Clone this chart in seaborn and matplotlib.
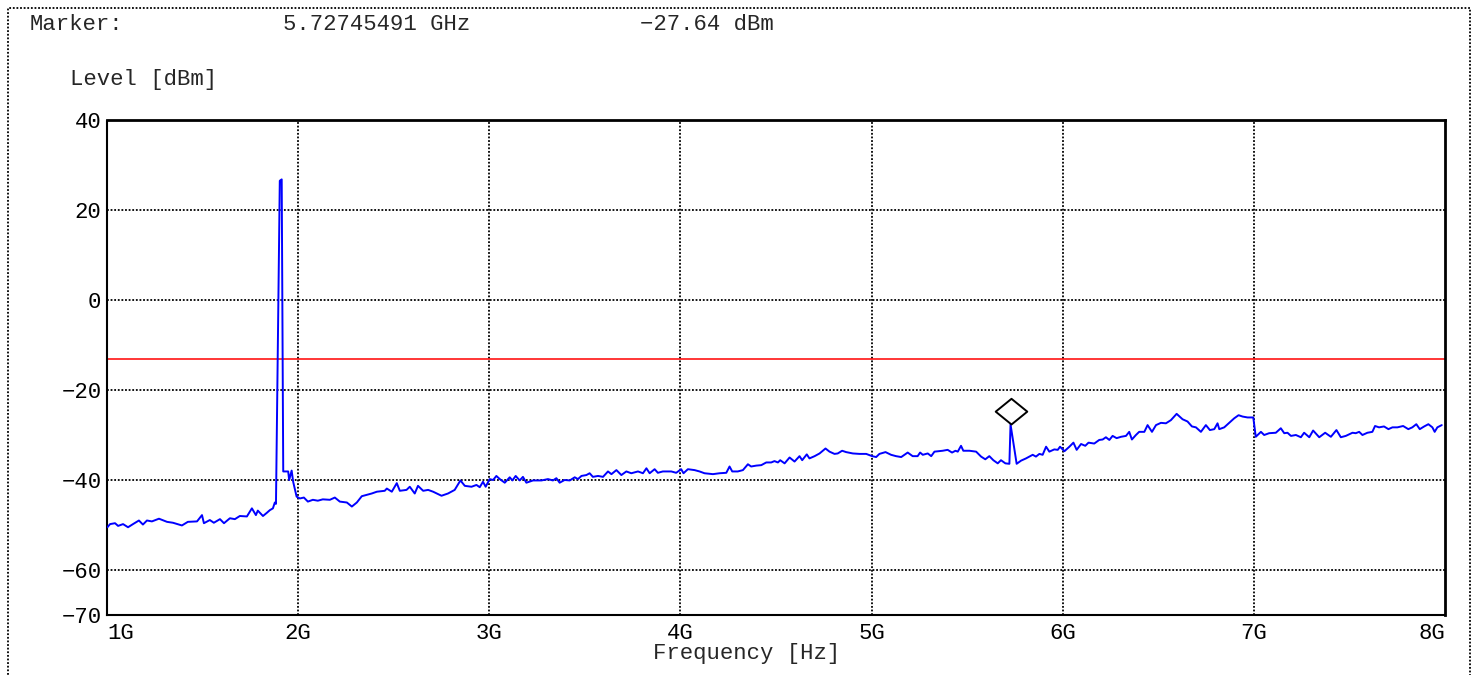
import numpy as np
import pandas as pd
import seaborn as sns
import matplotlib.pyplot as plt
import matplotlib.patches as mpatches
from matplotlib.path import Path

# spectrum trace
freq_ghz = [
    1.002, 1.016, 1.042, 1.058, 1.084, 1.110, 1.136, 1.167, 1.188, 1.209,
    1.235, 1.272, 1.314, 1.345, 1.392, 1.423, 1.471, 1.497, 1.507, 1.538,
    1.559, 1.591, 1.612, 1.643, 1.669, 1.695, 1.732, 1.758, 1.779, 1.789,
    1.816, 1.836, 1.852, 1.868, 1.878, 1.884, 1.904, 1.914, 1.922, 1.948,
    1.953, 1.966, 1.974, 1.992, 2.009, 2.030, 2.051, 2.077, 2.103, 2.129,
    2.166, 2.192, 2.218, 2.255, 2.281, 2.307, 2.333, 2.359, 2.385, 2.412,
    2.453, 2.464, 2.490, 2.516, 2.532, 2.567, 2.584, 2.610, 2.627, 2.654,
    2.680, 2.706, 2.750, 2.784, 2.819, 2.849, 2.872, 2.907, 2.933, 2.950,
    2.967, 2.981, 3.002, 3.020, 3.037, 3.055, 3.081, 3.107, 3.121, 3.138,
    3.159, 3.176, 3.194, 3.229, 3.273, 3.307, 3.333, 3.351, 3.368, 3.394,
    3.421, 3.447, 3.464, 3.482, 3.508, 3.525, 3.542, 3.569, 3.595, 3.621,
    3.639, 3.665, 3.691, 3.717, 3.743, 3.778, 3.804, 3.822, 3.839, 3.865,
    3.882, 3.908, 3.952, 3.978, 4.004, 4.016, 4.039, 4.074, 4.100, 4.126,
    4.170, 4.205, 4.240, 4.257, 4.271, 4.300, 4.327, 4.353, 4.370, 4.397,
    4.423, 4.449, 4.475, 4.492, 4.510, 4.522, 4.545, 4.571, 4.597, 4.623,
    4.637, 4.661, 4.675, 4.702, 4.728, 4.759, 4.780, 4.806, 4.823, 4.846,
    4.867, 4.902, 4.937, 4.972, 5.003, 5.024, 5.041, 5.073, 5.102, 5.128,
    5.155, 5.189, 5.215, 5.241, 5.254, 5.268, 5.294, 5.312, 5.329, 5.372,
    5.398, 5.421, 5.439, 5.451, 5.468, 5.480, 5.512, 5.547, 5.573, 5.595,
    5.616, 5.637, 5.660, 5.677, 5.700, 5.721, 5.727, 5.759, 5.782, 5.808,
    5.825, 5.843, 5.860, 5.878, 5.895, 5.913, 5.930, 5.956, 5.974, 5.986,
    6.009, 6.035, 6.056, 6.073, 6.096, 6.118, 6.135, 6.165, 6.191, 6.209,
    6.226, 6.244, 6.261, 6.282, 6.305, 6.331, 6.348, 6.362, 6.383, 6.400,
    6.427, 6.444, 6.467, 6.488, 6.514, 6.540, 6.566, 6.596, 6.627, 6.653,
    6.676, 6.697, 6.723, 6.749, 6.770, 6.793, 6.810, 6.819, 6.845, 6.871,
    6.897, 6.920, 6.941, 6.967, 6.997, 7.010, 7.037, 7.054, 7.080, 7.115,
    7.141, 7.159, 7.176, 7.194, 7.220, 7.246, 7.263, 7.290, 7.310, 7.342,
    7.373, 7.403, 7.432, 7.455, 7.481, 7.516, 7.533, 7.551, 7.568, 7.594,
    7.620, 7.634, 7.655, 7.681, 7.704, 7.725, 7.751, 7.781, 7.808, 7.829,
    7.850, 7.868, 7.891, 7.913, 7.934, 7.946, 7.960, 7.983,
]
level_dbm = [
    -50.5, -49.8, -49.6, -50.2, -49.8, -50.5, -49.8, -49.0, -49.9, -49.0,
    -49.2, -48.6, -49.3, -49.5, -50.1, -49.3, -49.2, -47.8, -49.6, -48.9,
    -49.5, -48.7, -49.6, -48.5, -48.7, -48.0, -48.1, -46.3, -47.8, -46.8,
    -48.0, -47.3, -46.7, -46.3, -45.0, -45.3, 26.5, 26.8, -38.1, -38.1,
    -40.0, -37.9, -40.4, -43.7, -44.1, -43.9, -44.8, -44.4, -44.6, -44.3,
    -44.4, -43.9, -44.8, -45.0, -45.9, -45.0, -43.6, -43.3, -43.0, -42.6,
    -42.4, -41.9, -42.6, -40.7, -42.4, -42.2, -41.5, -43.0, -41.3, -42.4,
    -42.2, -42.6, -43.5, -43.0, -42.2, -40.1, -41.3, -41.5, -41.1, -41.6,
    -40.4, -41.5, -39.8, -40.0, -39.1, -39.8, -40.6, -39.4, -40.1, -39.1,
    -40.1, -39.3, -40.6, -40.1, -40.1, -39.8, -40.1, -39.6, -40.6, -40.0,
    -40.1, -39.4, -39.8, -39.1, -38.9, -38.5, -39.3, -39.1, -39.3, -38.1,
    -38.7, -37.8, -38.9, -38.1, -38.5, -38.1, -38.5, -37.4, -38.5, -37.6,
    -38.4, -38.1, -38.1, -38.4, -37.6, -38.5, -37.6, -37.8, -38.1, -38.5,
    -38.7, -38.5, -38.4, -37.0, -38.1, -38.1, -37.8, -36.5, -37.0, -36.8,
    -36.7, -36.1, -36.1, -35.8, -36.1, -35.6, -36.3, -35.0, -35.9, -34.7,
    -35.6, -34.3, -35.2, -34.7, -34.1, -33.0, -33.7, -34.2, -34.1, -33.5,
    -33.8, -34.1, -34.2, -34.2, -34.7, -34.9, -34.2, -33.8, -34.4, -34.7,
    -34.9, -33.9, -34.7, -34.7, -33.9, -34.4, -34.1, -34.7, -33.7, -33.5,
    -33.3, -33.9, -33.5, -33.7, -32.4, -33.5, -33.5, -33.7, -34.8, -35.4,
    -34.7, -35.6, -36.3, -35.6, -36.3, -36.4, -27.64, -36.4, -35.7, -35.2,
    -34.8, -34.4, -34.8, -34.2, -34.4, -32.6, -33.7, -33.2, -33.3, -32.6,
    -33.6, -32.6, -31.7, -33.3, -32.0, -32.4, -31.7, -31.9, -31.1, -31.0,
    -30.5, -31.1, -30.2, -30.7, -30.4, -30.2, -29.3, -31.0, -30.0, -29.3,
    -29.3, -27.8, -29.3, -27.8, -27.3, -27.4, -26.7, -25.3, -26.5, -27.0,
    -28.1, -28.3, -29.3, -27.8, -28.9, -28.7, -27.4, -28.7, -28.3, -27.3,
    -26.3, -25.6, -25.9, -26.1, -26.1, -30.4, -29.3, -30.0, -29.6, -29.5,
    -28.5, -29.6, -29.5, -30.2, -30.0, -30.5, -29.5, -30.5, -29.0, -30.5,
    -29.5, -30.4, -28.9, -30.5, -30.2, -29.5, -29.6, -29.3, -30.0, -29.5,
    -29.3, -28.0, -28.3, -28.1, -28.7, -28.3, -28.3, -28.0, -28.7, -28.3,
    -27.6, -28.7, -28.1, -27.6, -28.3, -29.3, -28.3, -27.8,
]

marker_freq = 5.72745491
marker_level = -27.64
limit_dbm = -13
x_ticks = [1, 2, 3, 4, 5, 6, 7, 8]
x_labels = ["1G", "2G", "3G", "4G", "5G", "6G", "7G", "8G"]
y_ticks = [-70, -60, -40, -20, 0, 20, 40]

sns.set_style("white")
plt.rcParams['font.family'] = ['Liberation Mono', 'DejaVu Sans Mono']
plt.rcParams['axes.unicode_minus'] = True

trace = pd.DataFrame({"Frequency": freq_ghz, "Level": level_dbm})

fig = plt.figure(figsize=(14.75, 6.75), dpi=100)
ax = fig.add_axes([107 / 1475, 1 - 615 / 675, (1445 - 107) / 1475, (615 - 120) / 675])

dots = (0, (1, 1))

ax.axhline(limit_dbm, color="red", linewidth=1.1, zorder=2)
sns.lineplot(data=trace, x="Frequency", y="Level", color="blue", linewidth=1.4,
             estimator=None, sort=False, ax=ax, zorder=3)

# diamond marker sitting on top of the peak
diamond = Path([(0, 0), (1.23, 1), (0, 2), (-1.23, 1), (0, 0)],
               [Path.MOVETO, Path.LINETO, Path.LINETO, Path.LINETO, Path.CLOSEPOLY])
ax.plot([marker_freq], [marker_level], marker=diamond, markersize=37,
        markerfacecolor="none", markeredgecolor="black", markeredgewidth=1.4,
        linestyle="none", zorder=4)

ax.set_xlim(1, 8)
ax.set_ylim(-70, 40)
ax.set_xticks(x_ticks)
ax.set_xticklabels(x_labels)
ax.set_yticks(y_ticks)
ax.grid(True, color="black", linestyle=dots, linewidth=1.3)
ax.set_axisbelow(True)
# gridlines on the frame edges would hide the dotted spines
xg = ax.xaxis.get_gridlines()
xg[0].set_visible(False)
xg[-1].set_visible(False)
yg = ax.yaxis.get_gridlines()
yg[0].set_visible(False)
yg[-1].set_visible(False)

ax.tick_params(length=0, labelsize=16, colors="black")
ax.tick_params(axis="x", pad=6)
ax.tick_params(axis="y", pad=4)
xl = ax.get_xticklabels()
xl[0].set_ha("left")
xl[-1].set_ha("right")
ax.set_xlabel("")
ax.set_ylabel("")

for side in ["top", "right"]:
    ax.spines[side].set_color("black")
    ax.spines[side].set_linewidth(2)
for side in ["left", "bottom"]:
    ax.spines[side].set_color("black")
    ax.spines[side].set_linewidth(1.5)
    ax.spines[side].set_linestyle(dots)

fig.text(30 / 1475, 1 - 24 / 675, "Marker:", fontsize=16, va="center")
fig.text(283 / 1475, 1 - 24 / 675, "5.72745491 GHz", fontsize=16, va="center")
fig.text(640 / 1475, 1 - 24 / 675, "\u221227.64 dBm", fontsize=16, va="center")
fig.text(70 / 1475, 1 - 80 / 675, "Level [dBm]", fontsize=16, va="center")
fig.text(747 / 1475, 1 - 653 / 675, "Frequency [Hz]", fontsize=16, va="center", ha="center")

# dotted frame round the whole screen
frame = mpatches.Rectangle((8 / 1475, -0.02), (1470 - 8) / 1475, 1.02 - 8 / 675,
                           transform=fig.transFigure, fill=False, edgecolor="black",
                           linewidth=1.3, linestyle=dots)
fig.patches.append(frame)

plt.savefig("out.png", dpi=100)
